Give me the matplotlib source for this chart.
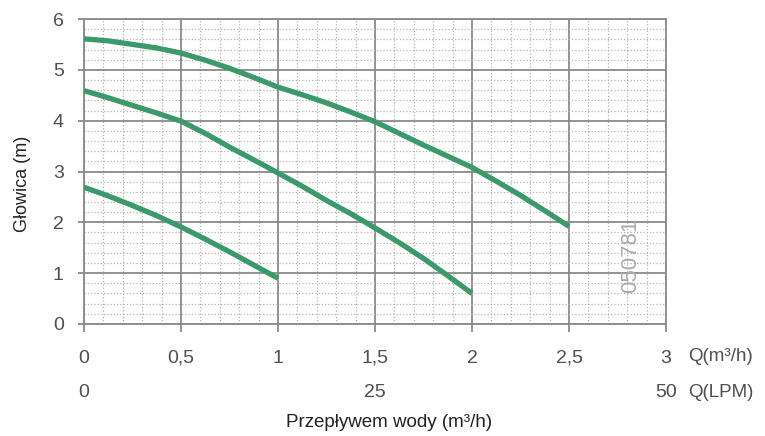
import matplotlib.pyplot as plt
import matplotlib.transforms as mtransforms
from matplotlib.ticker import MultipleLocator

# curve data (flow in m3/h, head in m)
q1 = [0, 0.125, 0.25, 0.375, 0.5, 0.625, 0.75, 0.875, 1.0, 1.125, 1.25,
      1.375, 1.5, 1.625, 1.75, 1.875, 2.0, 2.125, 2.25, 2.375, 2.5]
h1 = [5.61, 5.57, 5.5, 5.43, 5.33, 5.19, 5.03, 4.85, 4.66, 4.51, 4.35,
      4.17, 3.98, 3.75, 3.52, 3.3, 3.08, 2.81, 2.53, 2.23, 1.92]
q2 = [0, 0.125, 0.25, 0.375, 0.5, 0.625, 0.75, 0.875, 1.0, 1.125, 1.25,
      1.375, 1.5, 1.625, 1.75, 1.875, 2.0]
h2 = [4.59, 4.45, 4.3, 4.15, 3.99, 3.75, 3.48, 3.23, 2.97, 2.71, 2.43,
      2.17, 1.89, 1.6, 1.29, 0.95, 0.6]
q3 = [0, 0.125, 0.25, 0.375, 0.5, 0.625, 0.75, 0.875, 1.0]
h3 = [2.69, 2.52, 2.33, 2.13, 1.91, 1.67, 1.42, 1.16, 0.9]

x_ticks = [0, 0.5, 1, 1.5, 2, 2.5, 3]
x_labels = ['0', '0,5', '1', '1,5', '2', '2,5', '3']
lpm_pos = [0, 1.5, 3]
lpm_labels = ['0', '25', '50']

green = '#3b9a6c'
grey = '#8a8a8a'
txt = '#4f4f4f'

plt.rcParams['font.family'] = ['Liberation Sans', 'DejaVu Sans']

fig = plt.figure(figsize=(7.65, 4.36), dpi=100)
ax = fig.add_axes([0.1098, 0.2569, 0.7608, 0.6995])

for q, h in [(q1, h1), (q2, h2), (q3, h3)]:
    ax.plot(q, h, color=green, lw=3.8, solid_capstyle='butt',
            solid_joinstyle='round', zorder=3)

ax.set_xlim(0, 3)
ax.set_ylim(0, 6)
ax.set_xticks(x_ticks)
ax.set_xticklabels(x_labels)
ax.xaxis.set_minor_locator(MultipleLocator(0.1))
ax.yaxis.set_major_locator(MultipleLocator(1))
ax.yaxis.set_minor_locator(MultipleLocator(0.2))

ax.grid(which='major', color=grey, lw=1.3, zorder=1)
ax.grid(which='minor', color='#b5b5b5', lw=0.9, ls=(0, (1, 1.6)), zorder=0)
ax.set_axisbelow(True)

for s in ax.spines.values():
    s.set_color(grey)
    s.set_linewidth(1.3)

ax.tick_params(axis='x', which='major', length=6, width=1.3, color=grey,
               pad=12.5, labelsize=14, labelcolor=txt)
ax.tick_params(axis='y', which='major', length=4, width=1.3, color=grey,
               pad=10.5, labelsize=14, labelcolor=txt)
ax.tick_params(which='minor', length=0)

trans = mtransforms.blended_transform_factory(ax.transData, ax.transAxes)
for p, l in zip(lpm_pos, lpm_labels):
    ax.text(p, -0.226, l, transform=trans, ha='center', va='center',
            fontsize=14, color=txt)
ax.text(1.038, -0.108, 'Q(m³/h)', transform=ax.transAxes, ha='left',
        va='center', fontsize=13.5, color=txt)
ax.text(1.038, -0.226, 'Q(LPM)', transform=ax.transAxes, ha='left',
        va='center', fontsize=13.5, color=txt)

ax.text(2.82, 1.34, '050781', rotation=90, ha='center', va='center',
        fontsize=16, color='#ababab', zorder=2,
        family=['Liberation Sans Narrow', 'Liberation Sans'])

ax.set_ylabel('Głowica (m)', fontsize=13, color='#222222')
ax.yaxis.set_label_coords(-0.091, 0.46)
fig.text(0.508, 0.032, 'Przepływem wody (m³/h)', ha='center', va='center',
         fontsize=13.5, color='#222222')

fig.savefig('out.png', dpi=100)
